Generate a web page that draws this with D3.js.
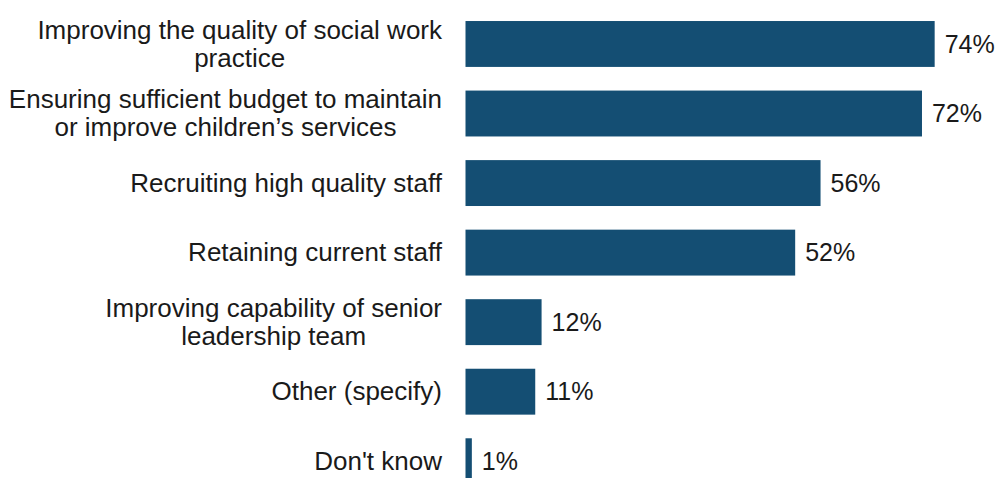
<!DOCTYPE html>
<html><head><meta charset="utf-8">
<script src="https://cdn.jsdelivr.net/npm/d3@7"></script>
<style>body{margin:0;background:#fff}svg{display:block}text{font-family:"Liberation Sans",Arial,sans-serif;fill:#1a1a1a}</style>
</head><body>
<svg id="chart" width="997" height="478"></svg>
<script>
const categories = [
  ["Improving the quality of social work", "practice"],
  ["Ensuring sufficient budget to maintain", "or improve children\u2019s services"],
  ["Recruiting high quality staff"],
  ["Retaining current staff"],
  ["Improving capability of senior", "leadership team"],
  ["Other (specify)"],
  ["Don't know"]
];
const values = [74, 72, 56, 52, 12, 11, 1];
const valueLabels = ["74%", "72%", "56%", "52%", "12%", "11%", "1%"];

const svg = d3.select("#chart");
const x = d3.scaleLinear().domain([0, 100]).range([465.5, 1099.5]);
const y = d3.scaleBand().domain(d3.range(values.length)).range([9.2, 496]).paddingInner(0.34).paddingOuter(0.17);

svg.selectAll("rect.bar").data(values).join("rect")
  .attr("class", "bar")
  .attr("x", x(0)).attr("y", (d, i) => y(i))
  .attr("width", d => x(d) - x(0)).attr("height", y.bandwidth())
  .attr("fill", "#144e73");

svg.selectAll("text.val").data(values).join("text")
  .attr("class", "val")
  .attr("x", d => x(d) + 10)
  .attr("y", (d, i) => y(i) + y.bandwidth() / 2)
  .attr("dy", "0.35em")
  .attr("font-size", 25)
  .text((d, i) => valueLabels[i]);

const rightEdge = 442;
const lineH = 28;
categories.forEach((lines, i) => {
  const g = svg.append("g");
  const cy = y(i) + y.bandwidth() / 2;
  const ts = lines.map((l, k) => g.append("text")
    .attr("font-size", 26)
    .attr("text-anchor", "middle")
    .attr("y", cy + (k - (lines.length - 1) / 2) * lineH)
    .attr("dy", "0.33em")
    .text(l));
  const maxW = d3.max(ts, t => t.node().getComputedTextLength());
  ts.forEach(t => t.attr("x", rightEdge - maxW / 2));
});
</script>
</body></html>
